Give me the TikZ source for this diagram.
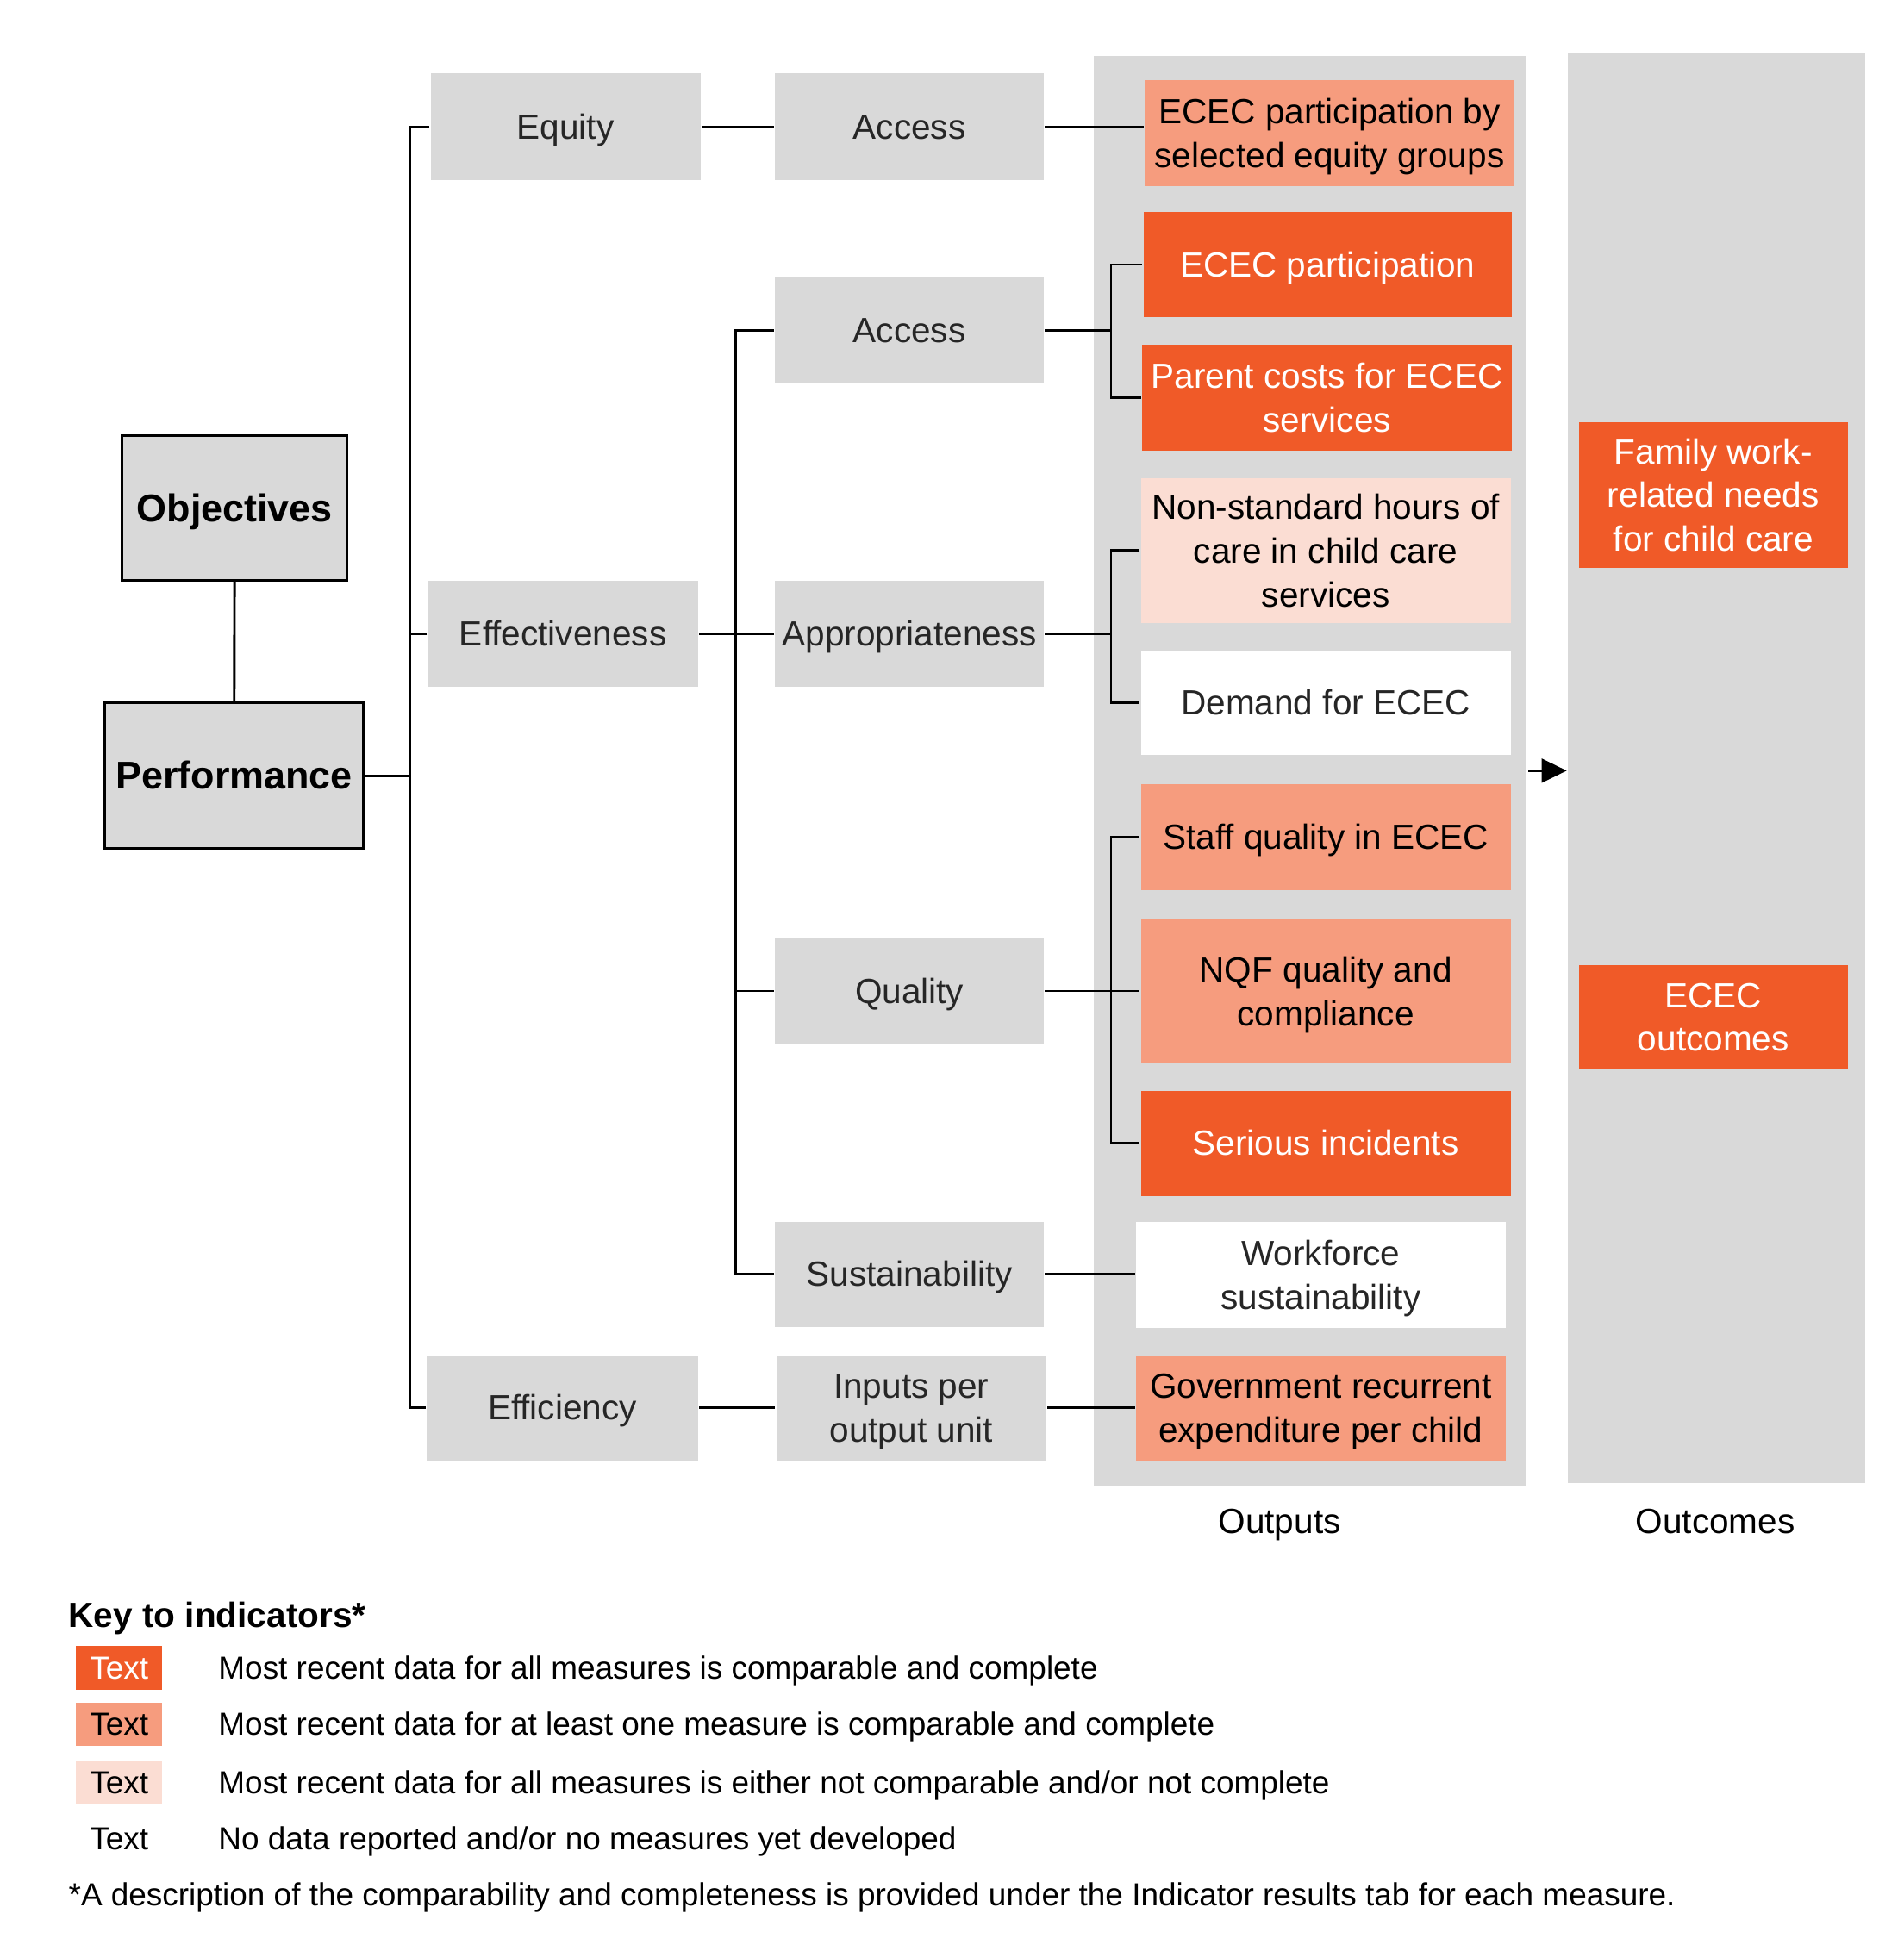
\documentclass[tikz,border=0pt]{standalone}
\usepackage{fontspec}
\setmainfont{Liberation Sans}
\usetikzlibrary{arrows.meta}
\definecolor{pcDark}{HTML}{F05A28}
\definecolor{pcMid}{HTML}{F69C7E}
\definecolor{pcLight}{HTML}{FBDDD3}
\definecolor{pcGrey}{HTML}{D9D9D9}
\definecolor{pcText}{HTML}{262626}
\newcommand\pcstrut{\rule[-0.212em]{0pt}{1.117em}}
\begin{document}
\begin{tikzpicture}[x=1pt, y=-1pt, >={Triangle[length=20pt,width=19pt]}, line width=2pt,
	font=\fontsize{28}{35}\selectfont, text=pcText,
	every node/.style={execute at begin node=\pcstrut, execute at end node=\pcstrut},
	multi/.style={text depth=-2pt},
	top/.style={draw=black, fill=pcGrey, text=black, inner sep=0pt, font=\fontsize{31}{37}\selectfont\bfseries},
	cat/.style={fill=pcGrey, inner sep=0pt, align=center, minimum width=216pt, minimum height=85pt},
	ind/.style={inner sep=0pt, align=center, minimum width=296pt, minimum height=85pt},
	dark/.style={fill=pcDark, text=white},
	mid/.style={fill=pcMid, text=black},
	light/.style={fill=pcLight, text=black},
	nodata/.style={fill=white},
	panel/.style={fill=pcGrey, inner sep=0pt, minimum height=1145pt},
	key/.style={inner sep=0pt, minimum width=69pt, minimum height=35pt, font=\fontsize{25.5}{30}\selectfont},
	keytext/.style={anchor=west, inner sep=0pt, text=black, font=\fontsize{25.5}{30}\selectfont}]
	\useasboundingbox (0,0) rectangle (1525,1568);
	% outputs and outcomes panels
	\node[panel, minimum width=347pt] (outp) at (1049.5,617.5) {};
	\node[panel, minimum width=238pt] (outc) at (1375,615.5) {};
	\node[text=black] (outlbl) at (1025,1219) {Outputs};
	\node[text=black] (outclbl) at (1374,1219) {Outcomes};
	% objectives
	\node[top, minimum width=180pt, minimum height=116pt] (obj) at (188,407) {Objectives};
	\node[top, minimum width=207pt, minimum height=117pt] (perf) at (187.5,621.5) {Performance};
	\node[cat] (equity) at (453,101.5) {Equity};
	\node[cat] (eff) at (451,508) {Effectiveness};
	\node[cat, minimum width=217pt, minimum height=84pt] (effi) at (450.5,1128) {Efficiency};
	\node[cat, minimum width=215pt] (acc1) at (728.5,101.5) {Access};
	\node[cat, minimum width=215pt] (acc2) at (728.5,264.5) {Access};
	\node[cat, minimum width=215pt] (appr) at (728.5,508) {Appropriateness};
	\node[cat, minimum width=215pt, minimum height=84pt] (qual) at (728.5,794) {Quality};
	\node[cat, minimum width=215pt, minimum height=84pt] (sust) at (728.5,1021) {Sustainability};
	\node[cat, multi, minimum height=84pt] (inp) at (730,1128) {Inputs per\\output unit};
	% indicators
	\node[ind, mid, multi] (o1) at (1065,106.5) {ECEC participation by\\selected equity groups};
	\node[ind, dark, minimum width=295pt, minimum height=84pt] (o2) at (1063.5,212) {ECEC participation};
	\node[ind, dark, multi] (o3) at (1063,318.5) {Parent costs for ECEC\\services};
	\node[ind, light, multi, minimum height=116pt] (o4) at (1062,441) {Non-standard hours of\\care in child care\\services};
	\node[ind, nodata, minimum height=84pt] (o5) at (1062,563) {Demand for ECEC};
	\node[ind, mid] (o6) at (1062,670.5) {Staff quality in ECEC};
	\node[ind, mid, multi, minimum height=115pt] (o7) at (1062,794) {NQF quality and\\compliance};
	\node[ind, dark, minimum height=84pt] (o8) at (1062,916) {Serious incidents};
	\node[ind, nodata, multi] (o9) at (1058,1021.5) {Workforce\\sustainability};
	\node[ind, mid, multi, minimum height=84pt] (o10) at (1058,1128) {Government recurrent\\expenditure per child};
	% outcomes
	\node[ind, dark, multi, minimum width=215pt, minimum height=117pt] (c1) at (1372.5,396.5) {Family work-\\related needs\\for child care};
	\node[ind, dark, multi, minimum width=215pt, minimum height=84pt] (c2) at (1372.5,815) {ECEC\\outcomes};
	% connectors
	\coordinate (sp1) at (328,0);
	\coordinate (sp2) at (589.5,0);
	\coordinate (br) at (890,0);
	\draw (obj) -- (perf);
	\draw (perf.east) -- (perf.east -| sp1);
	\draw (equity.west) -- (equity.west -| sp1) -- (effi.west -| sp1) -- (effi.west);
	\draw (eff.west) -- (eff.west -| sp1);
	\draw (equity) -- (acc1);
	\draw (acc1.east) -- (acc1.east -| o1.west);
	\draw (eff) -- (appr);
	\draw (effi) -- (inp);
	\draw (acc2.west) -- (acc2.west -| sp2) -- (sust.west -| sp2) -- (sust.west);
	\draw (qual.west) -- (qual.west -| sp2);
	\draw (acc2.east) -- (acc2.east -| br);
	\draw (o2.west) -- (o2.west -| br) -- (o3.west -| br) -- (o3.west);
	\draw (appr.east) -- (appr.east -| br);
	\draw (o4.west) -- (o4.west -| br) -- (o5.west -| br) -- (o5.west);
	\draw (qual) -- (o7);
	\draw (o6.west) -- (o6.west -| br) -- (o8.west -| br) -- (o8.west);
	\draw (sust.east) -- (sust.east -| o9.west);
	\draw (inp) -- (o10);
	\draw[->] (outp.east) -- (outp.east -| outc.west);
	% key
	\node[anchor=west, inner sep=0pt, text=black, font=\fontsize{28}{34}\selectfont\bfseries] (keyhd) at (54,1294) {Key to indicators*};
	\node[key, dark] (k1) at (95.5,1336.5) {Text};
	\node[key, mid] (k2) at (95.5,1381.5) {Text};
	\node[key, light] (k3) at (95.5,1428) {Text};
	\node[key, text=black] (k4) at (95.5,1473) {Text};
	\node[keytext] (t1) at (174,1336.5) {Most recent data for all measures is comparable and complete};
	\node[keytext] (t2) at (174,1381.5) {Most recent data for at least one measure is comparable and complete};
	\node[keytext] (t3) at (174,1428) {Most recent data for all measures is either not comparable and/or not complete};
	\node[keytext] (t4) at (174,1473) {No data reported and/or no measures yet developed};
	\node[keytext] (foot) at (54,1518) {*A description of the comparability and completeness is provided under the Indicator results tab for each measure.};
\end{tikzpicture}
\end{document}
